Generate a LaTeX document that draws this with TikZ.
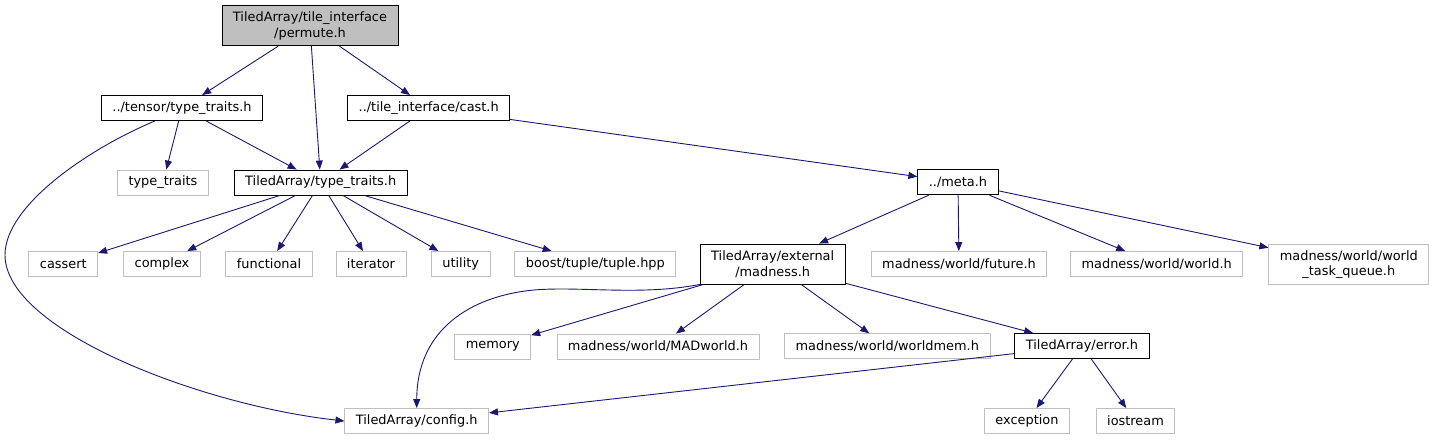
\documentclass[tikz,border=0pt]{standalone}
\usepackage{fontspec}
\setmainfont{DejaVu Sans}
\usetikzlibrary{arrows.meta}
\definecolor{edgeblue}{HTML}{191970}
\definecolor{boxgray}{HTML}{BFBFBF}
\begin{document}
\begin{tikzpicture}[x=1pt, y=-1pt,
    file/.style={draw=black, line width=0.9pt, inner xsep=11pt, inner ysep=0pt, minimum height=25pt, align=center, font=\fontsize{12.9}{15.5}\selectfont},
    sysfile/.style={file, draw=boxgray},
    current/.style={file, fill=boxgray, minimum height=40pt},
    dep/.style={-{Triangle[length=9pt,width=7pt]}, edgeblue, line width=0.9pt}
]
\useasboundingbox (0,0) rectangle (1435,440);

% Top levels
\node[current] (perm) at (310,25.7) {TiledArray/tile\_interface\\/permute.h};
\node[file] (tens) at (182,108) {../tensor/type\_traits.h};
\node[file] (cast) at (428.7,108) {../tile\_interface/cast.h};
\node[sysfile] (stdtt) at (163,182.5) {type\_traits};
\node[file] (tatt) at (320.7,182.5) {TiledArray/type\_traits.h};
\node[file] (meta) at (958,182.3) {../meta.h};

% Standard headers
\node[sysfile] (cassert) at (63.3,264) {cassert};
\node[sysfile] (complex) at (162,264) {complex};
\node[sysfile] (functional) at (269,264) {functional};
\node[sysfile] (iterator) at (371,264) {iterator};
\node[sysfile] (utility) at (460.7,264) {utility};
\node[sysfile] (boost) at (595.3,264) {boost/tuple/tuple.hpp};

% Madness
\node[file, minimum height=40pt] (mad) at (772.7,264) {TiledArray/external\\/madness.h};
\node[sysfile] (future) at (959,264) {madness/world/future.h};
\node[sysfile] (world) at (1156.7,264) {madness/world/world.h};
\node[sysfile, minimum height=40pt] (taskq) at (1348.8,264.5) {madness/world/world\\\_task\_queue.h};
\node[sysfile] (memory) at (492.8,346.5) {memory};
\node[sysfile] (madworld) at (658,346.5) {madness/world/MADworld.h};
\node[sysfile] (worldmem) at (887.3,346.3) {madness/world/worldmem.h};
\node[file] (error) at (1082,346) {TiledArray/error.h};

% Bottom
\node[sysfile] (conf) at (416.7,421) {TiledArray/config.h};
\node[sysfile] (exception) at (1027,421) {exception};
\node[sysfile] (iostream) at (1135.5,421) {iostream};

% Arrows
\draw[dep] (perm) -- (tens);
\draw[dep] (perm) -- (tatt);
\draw[dep] (perm) -- (cast);
\draw[dep] (tens) -- (stdtt);
\draw[dep] (tens) -- (tatt);
\draw[dep] ([xshift=-27pt]tens.south) .. controls (90,148) and (5,205) .. (5,255)
    .. controls (5,330) and (200,405) .. (conf.west);
\draw[dep] (cast) -- (tatt);
\draw[dep] (cast) -- (meta);
\draw[dep] (tatt) -- (cassert);
\draw[dep] (tatt) -- (complex);
\draw[dep] (tatt) -- (functional);
\draw[dep] (tatt) -- (iterator);
\draw[dep] (tatt) -- (utility);
\draw[dep] (tatt) -- (boost);
\draw[dep] (meta) -- (mad);
\draw[dep] (meta) -- (future);
\draw[dep] (meta) -- (world);
\draw[dep] (meta) -- (taskq);
\draw[dep] (mad.south west) .. controls (640,296) and (580,286) .. (534,290)
    .. controls (470,296) and (417,330) .. (conf.north);
\draw[dep] (mad) -- (memory);
\draw[dep] (mad) -- (madworld);
\draw[dep] (mad) -- (worldmem);
\draw[dep] (mad) -- (error);
\draw[dep] (error) -- (conf);
\draw[dep] (error) -- (exception);
\draw[dep] (error) -- (iostream);

\end{tikzpicture}
\end{document}
